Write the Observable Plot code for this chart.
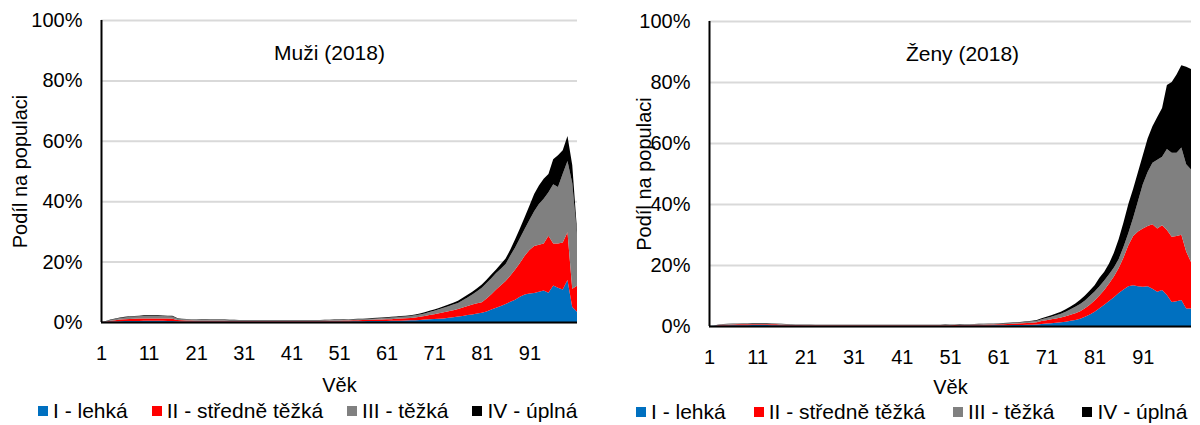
<!DOCTYPE html>
<html><head><meta charset="utf-8">
<script src="https://cdn.jsdelivr.net/npm/d3@7"></script>
<script src="https://cdn.jsdelivr.net/npm/@observablehq/plot@0.6"></script>
<style>
body{margin:0;background:#fff;}
#wrap{position:relative;width:1200px;height:425px;overflow:hidden;background:#fff;font-family:"Liberation Sans",Arial,sans-serif;color:#000;}
.panel{position:absolute;top:0;}
.legend{position:absolute;display:flex;align-items:center;font-size:21px;line-height:21px;white-space:nowrap;}
.legend .it{display:flex;align-items:center;}
.legend .sw{width:10px;height:10px;margin-right:5px;}
</style></head>
<body><div id="wrap"></div>
<script>
const ages = d3.range(1, 102);
const xTicks = [1, 11, 21, 31, 41, 51, 61, 71, 81, 91];
const yTicks = [0, 20, 40, 60, 80, 100];
const degrees = ["I - lehká", "II - středně těžká", "III - těžká", "IV - úplná"];
const colors = ["#0070C0", "#FF0000", "#808080", "#000000"];
const titles = ["Muži (2018)", "Ženy (2018)"];

// Muži – podíl na populaci (%) podle stupně, věk 1..101
const menI = [0,.05,.15,.2,.25,.3,.3,.35,.35,.4,
 .4,.4,.4,.4,.35,.35,.25,.2,.2,.2,
 .2,.15,.15,.15,.15,.15,.15,.15,.15,.15,
 .15,.15,.14,.14,.14,.14,.14,.14,.15,.15,
 .15,.15,.15,.15,.15,.15,.15,.15,.15,.2,
 .2,.2,.2,.25,.25,.25,.3,.3,.3,.35,
 .35,.4,.4,.45,.5,.55,.6,.7,.8,.9,
 1.0,1.1,1.2,1.4,1.6,1.8,2.0,2.3,2.5,2.8,
 3.1,3.5,4.1,4.7,5.3,6.0,6.7,7.4,8.4,9.1,
 9.4,9.6,10.0,10.4,9.7,12.1,11.3,10.8,13.9,5.0,
 3.4];
const menII = [0,.1,.25,.4,.55,.6,.7,.75,.8,.8,
 .8,.8,.8,.8,.8,.75,.45,.35,.3,.3,
 .25,.3,.3,.25,.25,.25,.25,.2,.2,.2,
 .2,.2,.2,.2,.2,.2,.2,.2,.2,.2,
 .2,.2,.2,.2,.2,.2,.2,.25,.25,.2,
 .25,.3,.3,.3,.35,.4,.4,.45,.5,.5,
 .55,.55,.65,.7,.75,.8,.9,1.0,1.15,1.4,
 1.6,1.8,2.0,2.2,2.3,2.5,2.8,3.0,3.3,3.4,
 3.4,4.3,5.1,6.1,6.9,7.6,8.7,10.0,11.1,12.8,
 14.4,15.6,15.6,15.6,18.9,13.9,14.7,15.5,15.8,6.0,
 8.6];
const menIII = [0,.1,.25,.4,.5,.6,.7,.7,.75,.8,
 .8,.8,.8,.75,.75,.75,.5,.45,.4,.35,
 .35,.3,.3,.3,.3,.25,.25,.25,.25,.25,
 .2,.2,.2,.2,.2,.2,.2,.2,.2,.2,
 .2,.2,.2,.2,.2,.25,.25,.2,.25,.25,
 .25,.25,.3,.3,.3,.3,.3,.35,.4,.45,
 .45,.5,.55,.6,.6,.65,.7,.75,.85,1.0,
 1.1,1.3,1.5,1.6,1.9,2.0,2.4,2.8,3.3,4.0,
 4.8,5.1,5.3,5.4,5.4,5.6,6.6,7.3,8.2,8.9,
 10.0,11.5,13.5,14.8,14.4,19.6,18.7,22.8,23.6,35.0,
 17.0];
const menIV = [0,.05,.15,.2,.2,.2,.2,.2,.2,.2,
 .2,.2,.2,.2,.2,.2,.1,.1,.1,.1,
 .15,.15,.15,.15,.15,.15,.15,.15,.15,.1,
 .1,.1,.1,.1,.1,.1,.1,.1,.1,.1,
 .1,.1,.1,.1,.1,.1,.1,.15,.1,.15,
 .15,.15,.15,.15,.15,.15,.2,.2,.2,.15,
 .2,.25,.25,.25,.25,.25,.3,.35,.4,.4,
 .4,.4,.5,.6,.6,.7,.8,.9,.9,1.0,
 1.1,1.1,1.2,1.2,1.6,1.8,2.0,2.7,3.3,3.9,
 4.7,5.7,6.1,6.6,6.0,8.3,10.5,7.8,8.3,6.0,
 1.5];

// Ženy – podíl na populaci (%) podle stupně, věk 1..101
const womenI = [0,.05,.15,.2,.2,.25,.25,.25,.25,.3,
 .3,.3,.3,.25,.25,.2,.2,.15,.15,.15,
 .12,.12,.1,.1,.1,.1,.1,.1,.1,.1,
 .1,.1,.1,.1,.1,.1,.1,.1,.1,.1,
 .1,.1,.1,.1,.1,.1,.1,.1,.1,.11,
 .12,.12,.13,.15,.15,.16,.18,.2,.2,.22,
 .23,.24,.26,.29,.32,.36,.4,.45,.52,.65,
 .8,.9,1.05,1.2,1.4,1.7,2.0,2.4,3.0,3.8,
 4.7,5.8,7.0,8.2,9.4,10.8,12.0,13.0,13.4,13.0,
 12.9,13.0,12.2,11.2,11.8,10.2,7.9,8.1,8.5,5.7,
 5.7];
const womenII = [0,.05,.15,.2,.25,.25,.3,.3,.3,.3,
 .3,.3,.3,.3,.3,.25,.2,.2,.15,.15,
 .15,.15,.15,.15,.15,.15,.15,.15,.15,.15,
 .15,.15,.15,.15,.15,.15,.15,.15,.15,.15,
 .15,.15,.15,.15,.15,.15,.15,.15,.15,.15,
 .16,.18,.19,.2,.2,.22,.24,.25,.28,.3,
 .32,.34,.38,.41,.46,.52,.58,.65,.74,.95,
 1.1,1.3,1.45,1.6,1.8,2.0,2.2,2.4,2.8,3.2,
 3.7,4.2,4.8,5.7,6.8,8.2,10.5,13.5,16.1,18.0,
 19.1,19.8,21.2,20.8,21.2,21.3,21.4,21.4,21.4,18.7,
 15.3];
const womenIII = [0,.05,.1,.15,.2,.2,.2,.25,.25,.25,
 .25,.25,.25,.25,.2,.2,.15,.15,.15,.15,
 .1,.1,.1,.1,.1,.1,.1,.1,.1,.1,
 .1,.1,.1,.1,.1,.1,.1,.1,.1,.1,
 .1,.1,.1,.1,.1,.1,.1,.1,.1,.1,
 .12,.12,.13,.15,.15,.17,.18,.2,.22,.23,
 .25,.27,.29,.3,.32,.35,.38,.43,.49,.6,
 .7,.8,1.0,1.2,1.5,1.8,2.1,2.4,2.6,2.8,
 2.9,3.0,3.1,3.1,3.0,3.0,3.5,4.0,6.0,10.0,
 14.5,17.7,20.1,22.5,22.5,26.5,27.5,27.3,28.6,28.6,
 30.3];
const womenIV = [0,.05,.1,.1,.1,.1,.1,.1,.1,.1,
 .1,.1,.1,.1,.1,.1,.1,.05,.05,.05,
 .1,.1,.1,.1,.1,.1,.1,.1,.1,.1,
 .1,.1,.1,.1,.1,.1,.1,.1,.1,.1,
 .1,.1,.1,.1,.1,.1,.1,.1,.1,.1,
 .1,.08,.1,.1,.1,.1,.1,.1,.1,.1,
 .1,.1,.12,.15,.15,.17,.19,.22,.25,.35,
 .4,.5,.6,.7,.8,.9,1.1,1.4,1.6,1.8,
 2.1,2.8,2.9,3.5,4.8,6.5,8.0,9.5,9.5,9.5,
 9.5,11.0,12.0,14.0,16.0,21.0,23.2,25.7,27.0,32.0,
 33.0];

function rows(series) {
  return series.flatMap((vals, i) => vals.map((v, j) => ({age: ages[j], degree: degrees[i], value: v})));
}

function panel(o) {
  return Plot.plot({
    width: 600, height: 400,
    marginLeft: o.ml, marginRight: o.mr, marginTop: o.mt, marginBottom: o.mb,
    style: {fontFamily: "'Liberation Sans', Arial, sans-serif", fontSize: "20px", color: "#000", background: "transparent", overflow: "visible"},
    x: {domain: [1, 101], ticks: xTicks, tickFormat: d => String(d), tickSize: 0, tickPadding: 23,
        label: "Věk", labelAnchor: "center", labelArrow: "none", labelOffset: o.xlo},
    y: {domain: [0, 100], ticks: yTicks, tickFormat: d => d + "%", tickSize: 0, tickPadding: 19,
        label: "Podíl na populaci", labelAnchor: "center", labelArrow: "none", labelOffset: o.ylo},
    color: {domain: degrees, range: colors},
    marks: [
      Plot.gridY(yTicks, {stroke: "#d9d9d9", strokeOpacity: 1, strokeWidth: 2}),
      Plot.areaY(o.data, {x: "age", y: "value", z: "degree", fill: "degree", curve: "linear"}),
      Plot.ruleY([0], {stroke: "#000", strokeWidth: 2}),
      Plot.ruleX([1], {stroke: "#000", strokeWidth: 2}),
      Plot.text([o.title], {frameAnchor: "top", dy: 25, dx: o.tdx, fontSize: 21, fill: "#000"})
    ]
  });
}

const wrap = document.getElementById("wrap");
const configs = [
  {left: 0, data: rows([menI, menII, menIII, menIV]), title: titles[0], tdx: -10, ml: 101, mr: 23, mt: 20, mb: 78, xlo: 69, ylo: 89, legLeft: 38, legTop: 400, gap: 24},
  {left: 600, data: rows([womenI, womenII, womenIII, womenIV]), title: titles[1], tdx: 12, ml: 109, mr: 9, mt: 21, mb: 74, xlo: 67, ylo: 73, legLeft: 636, legTop: 401, gap: 28}
];
for (const c of configs) {
  const svg = panel(c);
  svg.classList.add("panel");
  svg.style.left = c.left + "px";
  wrap.appendChild(svg);
  const leg = document.createElement("div");
  leg.className = "legend";
  leg.style.left = c.legLeft + "px";
  leg.style.top = c.legTop + "px";
  leg.style.gap = c.gap + "px";
  degrees.forEach((d, i) => {
    const it = document.createElement("div");
    it.className = "it";
    const sw = document.createElement("span");
    sw.className = "sw";
    sw.style.background = colors[i];
    const tx = document.createElement("span");
    tx.textContent = d;
    it.appendChild(sw); it.appendChild(tx);
    leg.appendChild(it);
  });
  wrap.appendChild(leg);
}
</script>
</body></html>
